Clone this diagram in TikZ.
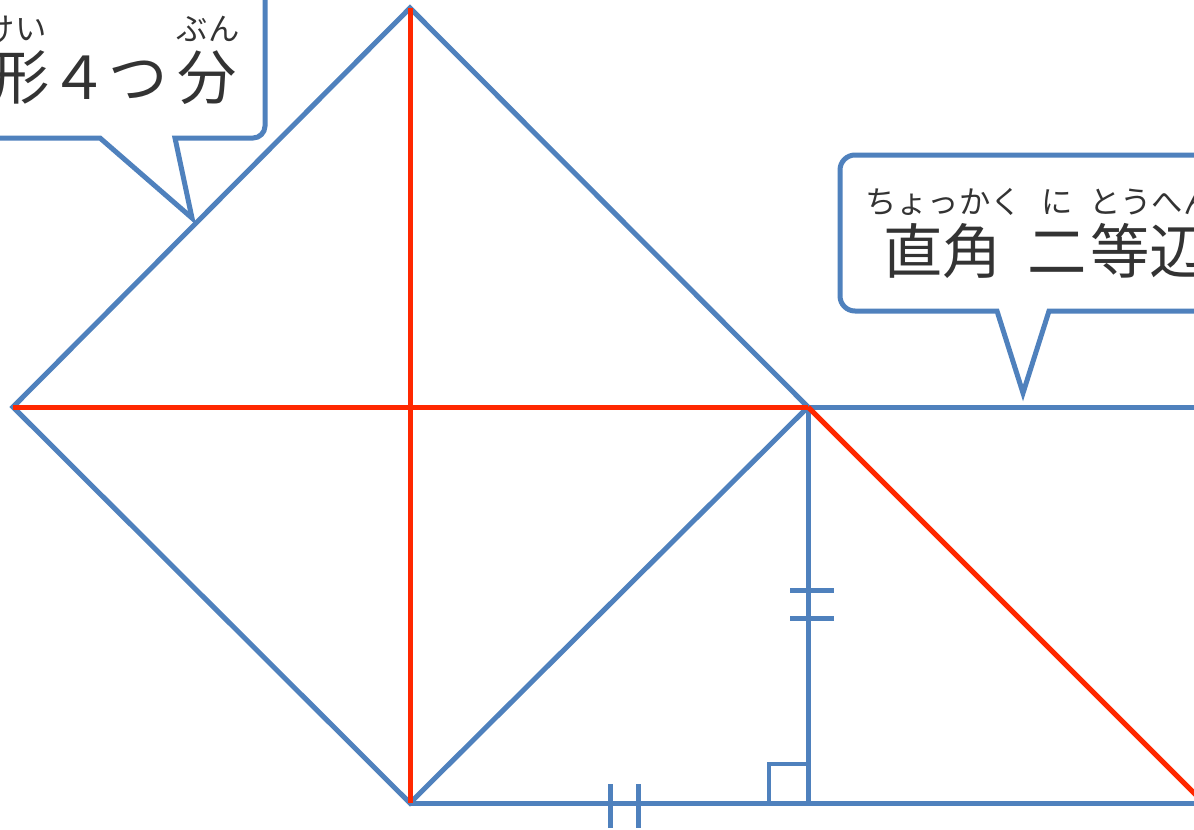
\documentclass[tikz,border=0pt]{standalone}
\usepackage{fontspec}
\newfontfamily\jp{Noto Sans CJK JP}
\definecolor{cblue}{RGB}{79,129,189}
\definecolor{cred}{RGB}{255,40,0}
\definecolor{ctext}{RGB}{51,51,51}
\begin{document}
\begin{tikzpicture}[x=0.75pt,y=-0.75pt,
  blueline/.style={draw=cblue,line width=3.75pt,line cap=butt},
  redline/.style={draw=cred,line width=3.75pt},
  callout/.style={draw=cblue,fill=white,line width=3.75pt,line join=miter},
  bigtext/.style={inner sep=0pt,text=ctext,font=\jp\fontsize{44.5pt}{50pt}\selectfont},
  rubytext/.style={inner sep=0pt,text=ctext,font=\jp\fontsize{23.5pt}{27pt}\selectfont}]
\useasboundingbox (0,0) rectangle (1194,829);
\clip (0,0) rectangle (1194,829);
\fill[white] (0,0) rectangle (1194,829);
% geometry
\coordinate (T) at (410,8);
\coordinate (L) at (13,407);
\coordinate (C) at (410,407);
\coordinate (R) at (808,407);
\coordinate (B) at (410,803);
\coordinate (Q) at (808,803);
\coordinate (E) at (1300,803);
\coordinate (F) at (1300,407);
\coordinate (G) at (1300,899);
% blue lines
\draw[blueline,line join=miter] (R) -- (T) -- (L) -- (B) -- (R);
\draw[blueline] (R) -- (Q);
\draw[blueline] (B) -- (E);
\draw[blueline] (R) -- (F);
% right angle mark
\draw[blueline,line width=3pt] (808,764) -- (769,764) -- (769,803);
% tick marks
\draw[blueline] (790,590) -- (834,590);
\draw[blueline] (790,618) -- (834,618);
\draw[blueline] (610,784) -- (610,828);
\draw[blueline] (638,784) -- (638,828);
% red lines
\draw[redline] (T) -- (B);
\draw[redline] (L) -- (R);
\draw[redline] (R) -- (G);
% left callout
\draw[callout] (-20,138) -- (100,138) -- (192,218) -- (175,138) -- (253,138)
  arc[start angle=90,end angle=0,radius=12] -- (265,-20);
\node[bigtext,anchor=base west] (lefttext) at (-10,99) {形４つ\kern7pt 分};
\node[rubytext,anchor=base] (rubykei) at (15,40) {けい};
\node[rubytext,anchor=base] (rubybun) at (208,40) {ぶん};
% right callout
\draw[callout] (1250,155) -- (855,155) arc[start angle=270,end angle=180,radius=15]
  -- (840,296) arc[start angle=180,end angle=90,radius=15]
  -- (997,311) -- (1023,393) -- (1049,311) -- (1250,311);
\node[bigtext,anchor=base west] (righttext) at (883,273) {直角\ \kern9pt 二\kern3pt 等辺};
\node[rubytext,anchor=base west] (rubychokkaku) at (865,213) {ちょっかく};
\node[rubytext,anchor=base] (rubyni) at (1057,213) {に};
\node[rubytext,anchor=base west] (rubytouhen) at (1089,213) {とうへん};
\end{tikzpicture}
\end{document}
